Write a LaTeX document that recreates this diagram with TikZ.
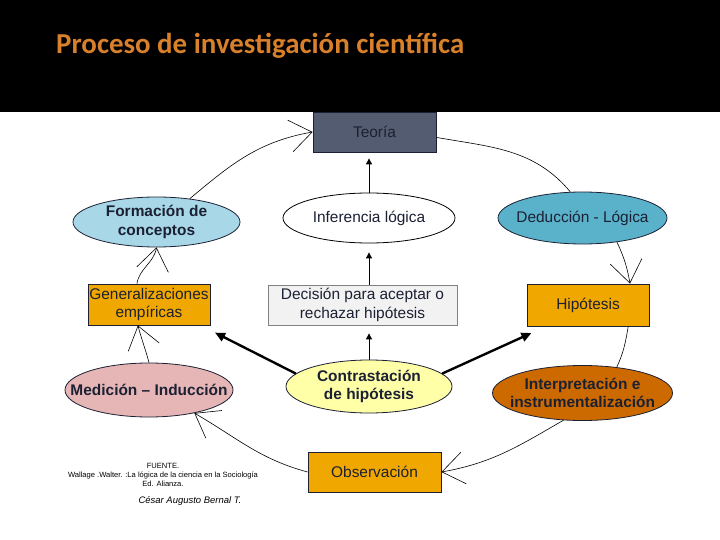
\documentclass[tikz,border=0pt]{standalone}
\usepackage{fontspec}
\setmainfont{Liberation Sans}
\newfontfamily\titlefont{Carlito}
\usetikzlibrary{arrows.meta,shapes.geometric}
\definecolor{Ink}{HTML}{1C2033}
\definecolor{Slate}{HTML}{535C70}
\definecolor{Amber}{HTML}{F0A800}
\definecolor{Rust}{HTML}{CC6A00}
\definecolor{Sky}{HTML}{A8D8E8}
\definecolor{Sea}{HTML}{5AB2CA}
\definecolor{Rose}{HTML}{E6B6B6}
\definecolor{Cream}{HTML}{FFFFA8}
\definecolor{Mist}{HTML}{F2F2F2}
\definecolor{TitleOr}{HTML}{D9802B}
\newcommand{\labfont}{\fontsize{15.5}{18.5}\selectfont}
\tikzset{
  shp/.style={draw=Ink,line width=.8pt,text=Ink,align=center,inner sep=-30bp,font=\labfont},
  box/.style={shp,rectangle},
  oval/.style={shp,ellipse},
  heavy/.style={font=\labfont\bfseries},
  up/.style={-{Triangle[length=6bp,width=6bp]},line width=.9pt},
  push/.style={-{Triangle[length=10bp,width=9bp]},line width=2.4pt,shorten >=16bp},
  wheel/.style={line width=.6pt},
  wheelto/.style={wheel,-{Straight Barb[length=22bp,width=32bp]}}
}
\begin{document}
\begin{tikzpicture}[x=1bp,y=1bp]
  \fill[white] (0,0) rectangle (720,-540);
  \fill[black] (0,0) rectangle (720,-112);
  \node[anchor=base west,text=TitleOr,font=\titlefont\fontsize{29}{31}\selectfont\bfseries,inner sep=0] (title) at (56,-54) {Proceso de investigación científica};

  % columna central
  \node[box,fill=Slate,minimum width=123bp,minimum height=40bp] (teoria) at (374.5,-132) {Teoría};
  \node[oval,fill=white,draw=black,minimum width=172bp,minimum height=50bp] (infer) at (369,-218) {Inferencia lógica};
  \node[box,fill=Mist,draw=gray,minimum width=189bp,minimum height=40bp] (decis) at (362.5,-305) {Decisión para aceptar o\\rechazar hipótesis};
  \node[oval,heavy,fill=Cream,minimum width=166bp,minimum height=53bp] (contra) at (369,-386.5) {Contrastación\\de hipótesis};
  \node[box,fill=Amber,minimum width=133bp,minimum height=40bp] (obser) at (374.5,-472) {Observación};

  % lado izquierdo
  \node[oval,heavy,fill=Sky,minimum width=167bp,minimum height=50bp] (forma) at (156.5,-222) {Formación de\\conceptos};
  \node[box,fill=Amber,minimum width=122bp,minimum height=41bp] (gener) at (149,-304.5) {Generalizaciones\\empíricas};
  \node[oval,heavy,fill=Rose,minimum width=168bp,minimum height=54bp] (medic) at (149,-390) {Medición -- Inducción};

  % lado derecho
  \node[oval,fill=Sea,minimum width=169bp,minimum height=52bp] (deduc) at (582.5,-218) {Deducción - Lógica};
  \node[box,fill=Amber,minimum width=122bp,minimum height=42bp] (hipot) at (588,-305) {Hipótesis};
  \node[oval,heavy,fill=Rust,minimum width=180bp,minimum height=55bp] (interp) at (582.5,-393) {Interpretación e\\instrumentalización};

  % fuente
  \node[align=center,font=\fontsize{7.6}{9}\selectfont,inner sep=0] (fuente) at (163,-475) {FUENTE.\\Wallage .Walter. :La lógica de la ciencia en la Sociología\\Ed. Alianza.};
  \node[font=\fontsize{9.5}{11}\itshape,inner sep=0] (autor) at (190,-501) {César Augusto Bernal T.};

  % flechas centrales
  \draw[up,shorten >=6bp] (infer.north) -- (infer.north |- teoria.south);
  \draw[up,shorten >=9bp] (infer.south |- decis.north) -- (infer.south);
  \draw[up,shorten >=8bp] (contra.north) -- (contra.north |- decis.south);
  \draw[push] (contra.170) -- (gener.-22);
  \draw[push] (contra.10) -- (hipot.-153);

  % ciclo exterior
  \draw[wheelto] (forma.35) to[out=40,in=190] (teoria.west);
  \draw[wheel] (teoria.-5) to[out=-10,in=130] (deduc.115);
  \draw[wheelto] (deduc.-35) to[out=-65,in=100] (hipot.27);
  \draw[wheel] (hipot.-28) to[out=-100,in=65] (interp.37);
  \draw[wheelto] (interp.-125) to[out=-150,in=10] (obser.east);
  \draw[wheelto] (obser.west) to[out=165,in=-30] (medic.-27);
  \draw[wheelto] (medic.north) to[out=105,in=-75] (gener.-118);
  \draw[wheelto] (gener.120) to[out=80,in=-100] (forma.south);
\end{tikzpicture}
\end{document}
